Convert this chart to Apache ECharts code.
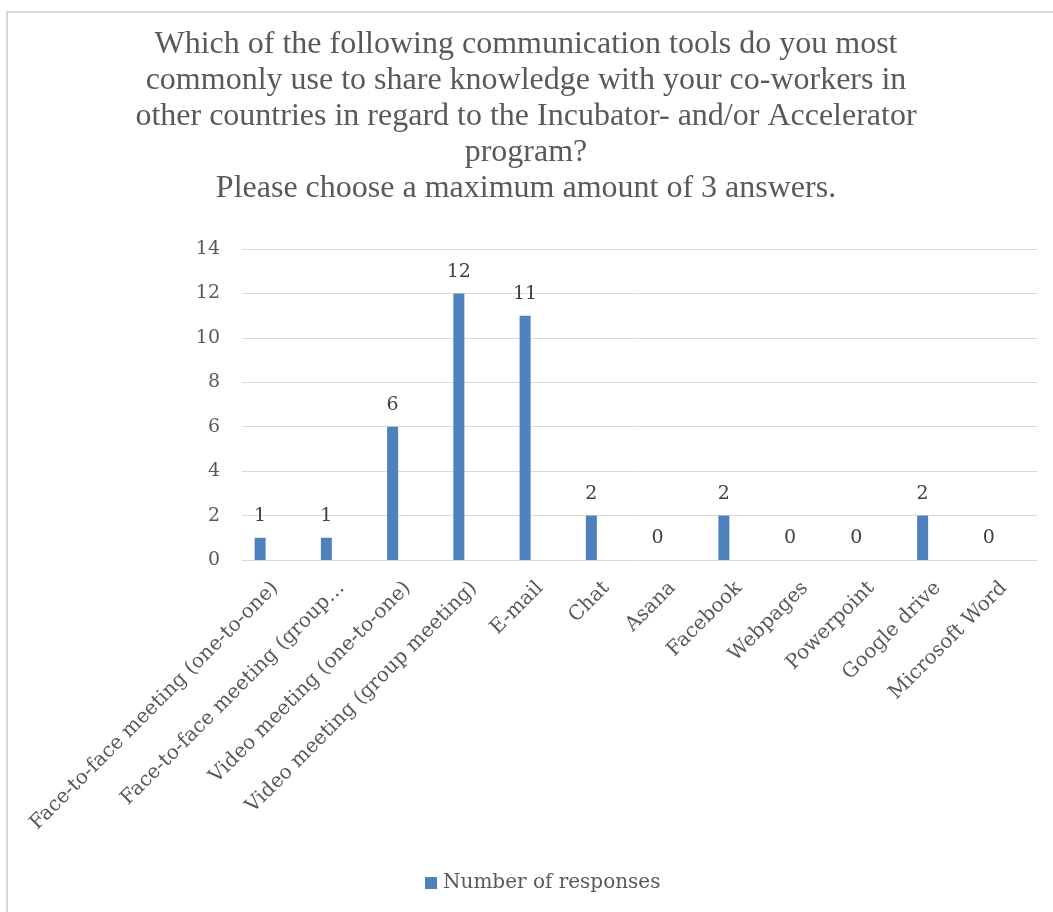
<!DOCTYPE html>
<html>
<head>
<meta charset="utf-8">
<script src="https://cdn.jsdelivr.net/npm/echarts@6/dist/echarts.min.js"></script>
<style>
  html, body { margin: 0; padding: 0; background: #fff; }
  #chart { width: 1053px; height: 912px; }
</style>
</head>
<body>
<div id="chart"></div>
<script>
// Survey answers: communication tools used to share knowledge across countries
const titleLines = [
  'Which of the following communication tools do you most',
  'commonly use to share knowledge with your co-workers in',
  'other countries in regard to the Incubator- and/or Accelerator',
  'program?',
  'Please choose a maximum amount of 3 answers.'
];
const seriesName = 'Number of responses';
const categories = [
  'Face-to-face meeting (one-to-one)',
  'Face-to-face meeting (group…',
  'Video meeting (one-to-one)',
  'Video meeting (group meeting)',
  'E-mail',
  'Chat',
  'Asana',
  'Facebook',
  'Webpages',
  'Powerpoint',
  'Google drive',
  'Microsoft Word'
];
const responses = [1, 1, 6, 12, 11, 2, 0, 2, 0, 0, 2, 0];
const yTicks = { min: 0, max: 14, interval: 2 };

const serif = '"DejaVu Serif", "Liberation Serif", serif';
const chart = echarts.init(document.getElementById('chart'));

chart.setOption({
  animation: false,
  backgroundColor: '#ffffff',
  graphic: [{
    type: 'rect',
    shape: { x: 7, y: 12, width: 1060, height: 920 },
    style: { fill: 'none', stroke: '#d9d9d9', lineWidth: 2 },
    silent: true,
    z: -1
  }],
  title: {
    text: titleLines.join('\n'),
    left: 526,
    textAlign: 'center',
    top: 27,
    padding: 0,
    textStyle: {
      fontFamily: '"Liberation Serif", "Times New Roman", serif',
      fontSize: 32,
      fontWeight: 'normal',
      color: '#595959',
      lineHeight: 36
    }
  },
  legend: {
    data: [seriesName],
    left: 425,
    top: 873,
    padding: 0,
    itemWidth: 12,
    itemHeight: 12,
    itemGap: 10,
    icon: 'rect',
    textStyle: { fontFamily: serif, fontSize: 20, color: '#595959', padding: [0, 0, 0, 1] }
  },
  grid: { left: 242, right: 16, top: 249, bottom: 352, containLabel: false },
  xAxis: {
    type: 'category',
    data: categories,
    axisLine: { lineStyle: { color: '#d9d9d9', width: 1 } },
    axisTick: { show: false },
    axisLabel: {
      rotate: 45,
      interval: 0,
      margin: 25,
      fontFamily: serif,
      fontSize: 20,
      color: '#595959'
    }
  },
  yAxis: {
    type: 'value',
    min: yTicks.min,
    max: yTicks.max,
    interval: yTicks.interval,
    axisLine: { show: false },
    axisTick: { show: false },
    splitLine: { lineStyle: { color: '#d9d9d9', width: 1 } },
    axisLabel: { margin: 22, fontFamily: serif, fontSize: 19, color: '#595959' }
  },
  series: [
    {
      name: seriesName,
      type: 'bar',
      data: responses,
      barWidth: 11,
      barGap: '173%',
      itemStyle: { color: '#4f81bd' },
      label: {
        show: true,
        position: 'top',
        distance: 12,
        fontFamily: serif,
        fontSize: 19,
        color: '#404040'
      }
    },
    {
      // empty companion series that keeps the bar slot to the left of centre
      name: 'spacer',
      type: 'bar',
      data: [],
      barWidth: 11,
      barGap: '173%',
      silent: true
    }
  ]
});
</script>
</body>
</html>
